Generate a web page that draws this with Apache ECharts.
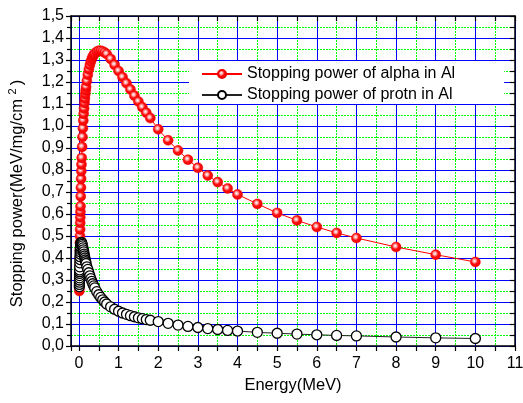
<!DOCTYPE html>
<html>
<head>
<meta charset="utf-8">
<script src="https://cdn.jsdelivr.net/npm/echarts@6/dist/echarts.min.js"></script>
<style>
  html, body { margin: 0; padding: 0; background: #ffffff; }
  #chart { width: 523px; height: 403px; }
</style>
</head>
<body>
<div id="chart"></div>
<script>
// Ion energies (MeV), shared by both stopping-power curves
const energyMeV = [
  0.010, 0.011, 0.012, 0.013, 0.014, 0.015, 0.016, 0.017, 0.018, 0.020,
  0.0225, 0.025, 0.0275, 0.030, 0.0325, 0.035, 0.0375, 0.040, 0.045, 0.050,
  0.055, 0.060, 0.065, 0.070, 0.080, 0.090, 0.100, 0.110, 0.120, 0.130,
  0.140, 0.150, 0.160, 0.170, 0.180, 0.200, 0.225, 0.250, 0.275, 0.300,
  0.325, 0.350, 0.375, 0.400, 0.450, 0.500, 0.550, 0.600, 0.650, 0.700,
  0.800, 0.900, 1.0, 1.1, 1.2, 1.3, 1.4, 1.5, 1.6, 1.7,
  1.8, 2.0, 2.25, 2.5, 2.75, 3.0, 3.25, 3.5, 3.75, 4.0,
  4.5, 5.0, 5.5, 6.0, 6.5, 7.0, 8.0, 9.0, 10.0
];

// Stopping power of alpha particles in Al (MeV/mg/cm2)
const alphaInAl = [
  0.250, 0.265, 0.280, 0.295, 0.310, 0.325, 0.340, 0.355, 0.370, 0.400,
  0.435, 0.470, 0.500, 0.530, 0.560, 0.585, 0.610, 0.635, 0.680, 0.720,
  0.760, 0.795, 0.825, 0.855, 0.905, 0.950, 0.990, 1.025, 1.055, 1.080,
  1.105, 1.125, 1.145, 1.162, 1.178, 1.205, 1.233, 1.257, 1.277, 1.293,
  1.306, 1.316, 1.324, 1.330, 1.338, 1.342, 1.342, 1.339, 1.334, 1.327,
  1.305, 1.278, 1.250, 1.222, 1.194, 1.166, 1.138, 1.111, 1.085, 1.060,
  1.036, 0.985, 0.935, 0.889, 0.847, 0.810, 0.775, 0.745, 0.716, 0.689,
  0.646, 0.605, 0.571, 0.541, 0.514, 0.491, 0.450, 0.415, 0.382
];

// Stopping power of protons in Al (MeV/mg/cm2)
const protonInAl = [
  0.270, 0.280, 0.290, 0.300, 0.310, 0.320, 0.330, 0.338, 0.346, 0.360,
  0.378, 0.393, 0.406, 0.418, 0.428, 0.437, 0.445, 0.451, 0.461, 0.467,
  0.470, 0.471, 0.470, 0.468, 0.462, 0.455, 0.446, 0.437, 0.428, 0.418,
  0.409, 0.400, 0.391, 0.383, 0.375, 0.360, 0.348, 0.333, 0.319, 0.306,
  0.294, 0.283, 0.273, 0.264, 0.247, 0.233, 0.221, 0.210, 0.200, 0.191,
  0.178, 0.167, 0.158, 0.150, 0.144, 0.138, 0.133, 0.128, 0.124, 0.120,
  0.117, 0.111, 0.103, 0.095, 0.089, 0.084, 0.079, 0.075, 0.071, 0.068,
  0.062, 0.058, 0.054, 0.051, 0.048, 0.046, 0.041, 0.037, 0.034
];

// Axis ranges and tick spacing
const X_MIN = -0.2, X_MAX = 11;
const Y_MIN = 0, Y_MAX = 1.5, Y_STEP = 0.1;
const X_MAJOR_SPLITS = 11;   // labelled ticks every 1 MeV
const X_HALF_SPLITS = 22;    // tick marks every 0.5 MeV

const FONT = 'Liberation Sans, Arial, sans-serif';
const GRID_MAJOR = '#0000ff';
const GRID_MINOR = '#00ff00';

const redBall = {
  type: 'radial', x: 0.42, y: 0.4, r: 0.62,
  colorStops: [
    { offset: 0, color: '#ffffff' },
    { offset: 0.22, color: '#ffb0b0' },
    { offset: 0.5, color: '#ff1010' },
    { offset: 1, color: '#e80000' }
  ]
};

const chart = echarts.init(document.getElementById('chart'), null, { renderer: 'canvas' });

chart.setOption({
  animation: false,
  backgroundColor: '#ffffff',
  grid: { left: 71, right: 8, top: 16, bottom: 57, containLabel: false, outerBoundsMode: 'none' },
  legend: {
    left: 189, top: 61,
    orient: 'vertical',
    backgroundColor: '#ffffff',
    padding: [5, 49, 1, 12],
    itemGap: 5,
    itemWidth: 40,
    itemHeight: 10,
    textStyle: { fontFamily: FONT, fontSize: 16, lineHeight: 16, color: '#000000' },
    data: ['Stopping power of alpha in Al', 'Stopping power of protn in Al']
  },
  xAxis: [
    {
      // half-MeV grid (dotted green) and bottom tick marks
      type: 'value', position: 'bottom', min: X_MIN, max: X_MAX, splitNumber: X_HALF_SPLITS, z: 0,
      axisLine: { show: false, onZero: false },
      axisTick: { show: true, inside: false, length: 5, lineStyle: { color: '#000000', width: 1.2 } },
      axisLabel: { show: false },
      splitLine: { show: true, lineStyle: { color: GRID_MINOR, width: 1, type: [2, 1] } }
    },
    {
      // labelled energy axis with solid blue grid
      type: 'value', position: 'bottom', min: X_MIN, max: X_MAX, splitNumber: X_MAJOR_SPLITS, z: 1,
      name: 'Energy(MeV)', nameLocation: 'middle', nameGap: 30,
      nameTextStyle: { fontFamily: FONT, fontSize: 16.5, color: '#000000' },
      axisLine: { show: true, onZero: false, lineStyle: { color: '#000000', width: 1.5 } },
      axisTick: { show: false },
      axisLabel: { showMinLabel: false, margin: 10, fontFamily: FONT, fontSize: 16, color: '#000000' },
      splitLine: { show: true, lineStyle: { color: GRID_MAJOR, width: 1 } }
    },
    {
      // top frame with inward ticks
      type: 'value', position: 'top', min: X_MIN, max: X_MAX, splitNumber: X_HALF_SPLITS, z: 1,
      axisLine: { show: true, onZero: false, lineStyle: { color: '#000000', width: 1.5 } },
      axisTick: { show: true, inside: true, length: 5, lineStyle: { color: '#000000', width: 1.2 } },
      axisLabel: { show: false },
      splitLine: { show: false }
    }
  ],
  yAxis: [
    {
      type: 'value', position: 'left', min: Y_MIN, max: Y_MAX, interval: Y_STEP, z: 1,
      name: 'Stopping power(MeV/mg/cm {sup|2})',
      nameLocation: 'middle', nameGap: 43,
      nameTextStyle: {
        fontFamily: FONT, fontSize: 16.5, color: '#000000', padding: [0, 25, 0, 0],
        rich: { sup: { fontFamily: FONT, fontSize: 11, color: '#000000', padding: [0, 3, 10, 0] } }
      },
      axisLine: { show: true, onZero: false, lineStyle: { color: '#000000', width: 1.5 } },
      axisTick: { show: true, inside: false, length: 5, lineStyle: { color: '#000000', width: 1.2 } },
      minorTick: { show: true, splitNumber: 2, length: 4, lineStyle: { color: '#000000', width: 1.2 } },
      axisLabel: {
        margin: 7, fontFamily: FONT, fontSize: 16, color: '#000000',
        formatter: v => v.toFixed(1).replace('.', ',')
      },
      splitLine: { show: true, lineStyle: { color: GRID_MAJOR, width: 1 } },
      minorSplitLine: { show: true, lineStyle: { color: GRID_MINOR, width: 1, type: [2, 1] } }
    },
    {
      type: 'value', position: 'right', min: Y_MIN, max: Y_MAX, interval: Y_STEP / 2, z: 1,
      axisLine: { show: true, onZero: false, lineStyle: { color: '#000000', width: 1.5 } },
      axisTick: { show: true, inside: true, length: 5, lineStyle: { color: '#000000', width: 1.2 } },
      axisLabel: { show: false },
      splitLine: { show: false }
    }
  ],
  series: [
    {
      name: 'Stopping power of alpha in Al',
      type: 'line', xAxisIndex: 1, yAxisIndex: 0,
      data: energyMeV.map((e, i) => [e, alphaInAl[i]]),
      symbol: 'circle', symbolSize: 10, showSymbol: true,
      lineStyle: { color: '#ff0000', width: 1 },
      itemStyle: { color: redBall, borderColor: '#f00000', borderWidth: 0.5 },
      emphasis: { disabled: true },
      z: 2
    },
    {
      name: 'Stopping power of protn in Al',
      type: 'line', xAxisIndex: 1, yAxisIndex: 0,
      data: energyMeV.map((e, i) => [e, protonInAl[i]]),
      symbol: 'circle', symbolSize: 10, showSymbol: true,
      lineStyle: { color: '#222222', width: 1 },
      itemStyle: { color: '#ffffff', borderColor: '#000000', borderWidth: 1.3 },
      emphasis: { disabled: true },
      z: 3
    }
  ]
});
</script>
</body>
</html>
